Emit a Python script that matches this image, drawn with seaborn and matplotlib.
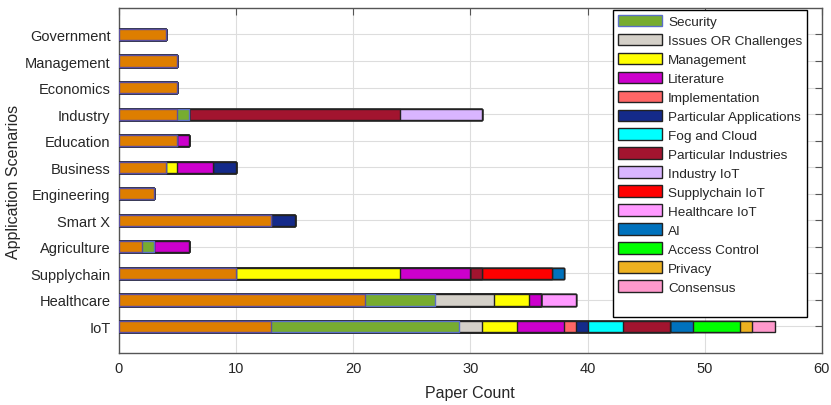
import matplotlib
matplotlib.use('Agg')
import matplotlib.pyplot as plt
import numpy as np
import pandas as pd
import seaborn as sns
from matplotlib.patches import Patch

scenarios = ['Government', 'Management', 'Economics', 'Industry', 'Education', 'Business',
             'Engineering', 'Smart X', 'Agriculture', 'Supplychain', 'Healthcare', 'IoT']

topics = ['General', 'Security', 'Issues OR Challenges', 'Management', 'Literature',
          'Implementation', 'Particular Applications', 'Fog and Cloud', 'Particular Industries',
          'Industry IoT', 'Supplychain IoT', 'Healthcare IoT', 'AI', 'Access Control',
          'Privacy', 'Consensus']

# counts per topic, in scenario order above
general = [4, 5, 5, 5, 5, 4, 3, 13, 2, 10, 21, 13]
security = [0, 0, 0, 1, 0, 0, 0, 0, 1, 0, 6, 16]
issues = [0, 0, 0, 0, 0, 0, 0, 0, 0, 0, 5, 2]
management = [0, 0, 0, 0, 0, 1, 0, 0, 0, 14, 3, 3]
literature = [0, 0, 0, 0, 1, 3, 0, 0, 3, 6, 1, 4]
implementation = [0, 0, 0, 0, 0, 0, 0, 0, 0, 0, 0, 1]
particular_apps = [0, 0, 0, 0, 0, 2, 0, 2, 0, 0, 0, 1]
fog_cloud = [0, 0, 0, 0, 0, 0, 0, 0, 0, 0, 0, 3]
particular_ind = [0, 0, 0, 18, 0, 0, 0, 0, 0, 1, 0, 4]
industry_iot = [0, 0, 0, 7, 0, 0, 0, 0, 0, 0, 0, 0]
supplychain_iot = [0, 0, 0, 0, 0, 0, 0, 0, 0, 6, 0, 0]
healthcare_iot = [0, 0, 0, 0, 0, 0, 0, 0, 0, 0, 3, 0]
ai = [0, 0, 0, 0, 0, 0, 0, 0, 0, 1, 0, 2]
access_control = [0, 0, 0, 0, 0, 0, 0, 0, 0, 0, 0, 4]
privacy = [0, 0, 0, 0, 0, 0, 0, 0, 0, 0, 0, 1]
consensus = [0, 0, 0, 0, 0, 0, 0, 0, 0, 0, 0, 2]

series = [general, security, issues, management, literature, implementation, particular_apps,
          fog_cloud, particular_ind, industry_iot, supplychain_iot, healthcare_iot, ai,
          access_control, privacy, consensus]

colors = ['#DE7E00', '#77AC30', '#D4D0C8', '#FFFF00', '#CC00CC', '#FF6666', '#142A8A',
          '#00FFFF', '#A2142F', '#D9B5FF', '#FF0000', '#FF99FF', '#0072BD', '#00FF00',
          '#EDB120', '#FF99CC']
edges = ['#5A4FA0', '#5A6FC8'] + ['#222222'] * 14

sns.set_style('whitegrid')
plt.rcParams['font.family'] = ['Liberation Sans', 'DejaVu Sans']

fig, ax = plt.subplots(figsize=(8.31, 4.06), dpi=100)
fig.subplots_adjust(left=0.143, right=0.989, bottom=0.128, top=0.978)

cum = np.cumsum(np.array(series), axis=0)
# draw longest stack first, then overlay shorter ones
for i in range(len(topics) - 1, -1, -1):
    df = pd.DataFrame({'scenario': scenarios, 'count': cum[i]})
    sns.barplot(data=df, x='count', y='scenario', order=scenarios, orient='h',
                color=colors[i], edgecolor=edges[i], linewidth=1.0, width=0.42,
                saturation=1, ax=ax, zorder=3)

ax.set_xlim(0, 60)
ax.set_ylim(12, -1)
ax.set_xticks(range(0, 61, 10))
ax.set_xlabel('Paper Count', fontsize=11.5, labelpad=7)
ax.set_ylabel('Application Scenarios', fontsize=11.5, labelpad=3)
ax.tick_params(axis='both', labelsize=10.5, direction='in', length=5, color='#555555',
               right=True, top=True, pad=6)
ax.grid(True, color='#dddddd', linewidth=0.8, zorder=0)
ax.set_axisbelow(True)
for s in ax.spines.values():
    s.set_visible(True)
    s.set_color('#555555')
    s.set_linewidth(1.0)

handles = [Patch(facecolor=colors[i], edgecolor=edges[i], label=topics[i])
           for i in range(1, len(topics))]
# blank row at the bottom of the box, as in the original
handles.append(Patch(facecolor='none', edgecolor='none', label=' '))
leg = ax.legend(handles=handles, loc='upper left', bbox_to_anchor=(0.701, 0.998),
                fontsize=9.7, frameon=True, fancybox=False, framealpha=1,
                edgecolor='black', handlelength=3.3, handleheight=0.95,
                labelspacing=0.41, borderpad=0.35, handletextpad=0.45, borderaxespad=0.1)
leg.get_frame().set_linewidth(1.0)
leg.set_zorder(5)

fig.savefig('out.png', dpi=100)
